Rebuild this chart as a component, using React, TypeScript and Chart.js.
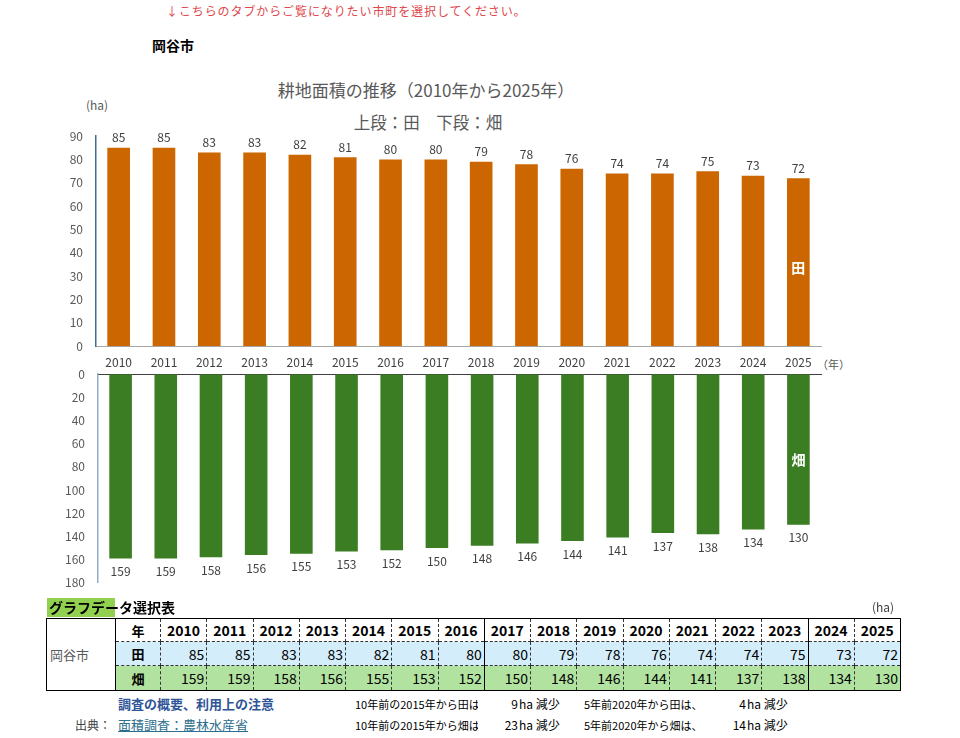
import React, { useEffect, useRef } from 'react';
import { Chart, registerables } from 'chart.js';

Chart.register(...registerables);

// 耕地面積（ha）
const years = ['2010', '2011', '2012', '2013', '2014', '2015', '2016', '2017', '2018', '2019', '2020', '2021', '2022', '2023', '2024', '2025'];
const paddyHa = [85, 85, 83, 83, 82, 81, 80, 80, 79, 78, 76, 74, 74, 75, 73, 72];
const uplandHa = [159, 159, 158, 156, 155, 153, 152, 150, 148, 146, 144, 141, 137, 138, 134, 130];

const paddyAxis = { max: 90, step: 10 };
const uplandAxis = { max: 180, step: 20 };

const FONT = "'Noto Sans CJK JP', 'Noto Sans', sans-serif";
const NARROW = "'Liberation Sans Narrow', 'Noto Sans CJK JP', sans-serif";
const ORANGE = '#CC6600';
const GREEN = '#3A7D22';

// 値ラベルと系列名（最終年の棒の中）を描くプラグイン
const barLabels = {
  id: 'barLabels',
  afterDatasetsDraw(chart: any, _args: any, opts: any) {
    const { ctx } = chart;
    const meta = chart.getDatasetMeta(0);
    const data = chart.data.datasets[0].data as number[];
    ctx.save();
    ctx.font = `12px ${FONT}`;
    ctx.fillStyle = '#404040';
    ctx.textAlign = 'center';
    meta.data.forEach((bar: any, i: number) => {
      const { x, y } = bar.getProps(['x', 'y'], true);
      if (opts.below) {
        ctx.textBaseline = 'top';
        ctx.fillText(String(data[i]), x, y + 7);
      } else {
        ctx.textBaseline = 'bottom';
        ctx.fillText(String(data[i]), x, y - 4);
      }
    });
    const last = meta.data[meta.data.length - 1];
    const p = last.getProps(['x', 'y', 'base'], true);
    ctx.font = `bold 14px ${FONT}`;
    ctx.fillStyle = '#ffffff';
    ctx.textBaseline = 'middle';
    ctx.fillText(opts.name, p.x, (p.y + p.base) / 2 + opts.nameOffset);
    ctx.restore();
  },
};

function makeChart(canvas: HTMLCanvasElement, cfg: {
  values: number[]; color: string; axis: { max: number; step: number }; below: boolean;
  name: string; nameOffset: number; padBottom: number; axisWidth: number; yBorder: string;
}) {
  return new Chart(canvas, {
    type: 'bar',
    data: {
      labels: years,
      datasets: [{
        data: cfg.values,
        backgroundColor: cfg.color,
        barPercentage: 0.5,
        categoryPercentage: 1,
      }],
    },
    options: {
      responsive: false,
      animation: false,
      layout: { padding: { left: 0, right: 139, top: 0, bottom: cfg.padBottom } },
      plugins: {
        legend: { display: false },
        tooltip: { enabled: false },
        barLabels: { below: cfg.below, name: cfg.name, nameOffset: cfg.nameOffset },
      } as any,
      scales: {
        x: cfg.below
          ? {
              position: 'top',
              grid: { display: false, drawTicks: false },
              border: { display: true, color: '#404040', width: 1 },
              ticks: { display: false },
              afterFit: (s: any) => { s.height = 0; },
            }
          : {
              grid: { display: false, drawTicks: false },
              border: { display: true, color: '#a6a6a6', width: 1 },
              ticks: { font: { family: FONT, size: 12 }, color: '#404040', padding: 9, autoSkip: false, maxRotation: 0 },
              afterFit: (s: any) => { s.height = 29; },
            },
        y: {
          min: 0,
          max: cfg.axis.max,
          reverse: cfg.below,
          grid: { display: false, drawTicks: false },
          border: { display: true, color: cfg.yBorder, width: 1.5 },
          ticks: { stepSize: cfg.axis.step, font: { family: FONT, size: 12 }, color: '#595959', padding: 13 },
          afterFit: (s: any) => { s.width = cfg.axisWidth; },
        },
      },
    } as any,
    plugins: [barLabels],
  });
}

function Txt(props: { x: number; cy: number; size: number; children: React.ReactNode; style?: React.CSSProperties; center?: boolean }) {
  const { x, cy, size, children, style, center } = props;
  return (
    <div
      style={{
        position: 'absolute',
        left: x,
        top: cy - size * 0.75,
        fontSize: size,
        lineHeight: `${size * 1.5}px`,
        whiteSpace: 'nowrap',
        transform: center ? 'translateX(-50%)' : undefined,
        ...style,
      }}
    >
      {children}
    </div>
  );
}

export default function App() {
  const topRef = useRef<HTMLCanvasElement>(null);
  const bottomRef = useRef<HTMLCanvasElement>(null);

  useEffect(() => {
    const top = makeChart(topRef.current!, {
      values: paddyHa, color: ORANGE, axis: paddyAxis, below: false, name: '田', nameOffset: 6,
      padBottom: 0, axisWidth: 96, yBorder: '#3f6f8f',
    });
    const bottom = makeChart(bottomRef.current!, {
      values: uplandHa, color: GREEN, axis: uplandAxis, below: true, name: '畑', nameOffset: 10,
      padBottom: 0, axisWidth: 98, yBorder: '#8faec6',
    });
    return () => { top.destroy(); bottom.destroy(); };
  }, []);

  const last = years.length - 1;
  const i2015 = years.indexOf('2015');
  const i2020 = years.indexOf('2020');
  const paddy10 = paddyHa[i2015] - paddyHa[last];
  const upland10 = uplandHa[i2015] - uplandHa[last];
  const paddy5 = paddyHa[i2020] - paddyHa[last];
  const upland5 = uplandHa[i2020] - uplandHa[last];

  const solidAfter = new Set([6, 13]);
  const dash = '1px dashed #333';
  const cell = (i: number, extra: React.CSSProperties): React.CSSProperties => ({
    borderTop: dash,
    borderBottom: dash,
    borderLeft: dash,
    borderRight: solidAfter.has(i) ? '1px solid #000' : dash,
    padding: '0 2px',
    ...extra,
  });
  const rowColors = ['#ffffff', '#D4EDFA', '#B2E2A0'];

  return (
    <div style={{ position: 'absolute', left: 0, top: 0, width: 960, height: 738, overflow: 'hidden', background: '#fff', fontFamily: FONT, color: '#000' }}>
      <Txt x={166} cy={11} size={12} style={{ color: '#E0474C', letterSpacing: '0.9px' }}>↓こちらのタブからご覧になりたい市町を選択してください。</Txt>
      <Txt x={152} cy={45} size={14} style={{ fontWeight: 700 }}>岡谷市</Txt>

      <Txt x={426} cy={90} size={17} center style={{ color: '#595959' }}>耕地面積の推移（2010年から2025年）</Txt>
      <Txt x={428} cy={122} size={16.5} center style={{ color: '#595959' }}>上段：田　下段：畑</Txt>
      <Txt x={86} cy={105} size={12} style={{ color: '#595959' }}>(ha)</Txt>
      <Txt x={817} cy={364} size={11} style={{ color: '#595959' }}>（年）</Txt>

      <canvas ref={topRef} width={960} height={259} style={{ position: 'absolute', left: 0, top: 116, width: 960, height: 259 }} />
      <canvas ref={bottomRef} width={960} height={249} style={{ position: 'absolute', left: 0, top: 354, width: 960, height: 249 }} />

      <div style={{ position: 'absolute', left: 47, top: 598, width: 68, height: 19, background: '#92D050' }} />
      <Txt x={49} cy={607} size={14} style={{ fontWeight: 700 }}>グラフデータ選択表</Txt>
      <Txt x={872} cy={607} size={12} style={{ color: '#404040' }}>(ha)</Txt>

      <table
        style={{
          position: 'absolute', left: 46, top: 618, width: 854, borderCollapse: 'collapse',
          tableLayout: 'fixed', border: '1px solid #000', fontFamily: NARROW, fontSize: 14,
        }}
      >
        <colgroup>
          <col style={{ width: 69 }} />
          <col style={{ width: 45 }} />
          {years.map((y) => <col key={y} style={{ width: 46.25 }} />)}
        </colgroup>
        <tbody>
          <tr style={{ height: 23, background: rowColors[0] }}>
            <td rowSpan={3} style={{ border: '1px solid #000', background: '#fff', color: '#595959', fontFamily: FONT, fontSize: 13, paddingLeft: 3, verticalAlign: 'middle' }}>岡谷市</td>
            <td style={cell(-1, { textAlign: 'center', fontWeight: 700, fontFamily: FONT, fontSize: 13, borderLeft: '1px solid #000' })}>年</td>
            {years.map((y, i) => (
              <td key={y} style={cell(i, { textAlign: 'center', fontWeight: 700 })}>{y}</td>
            ))}
          </tr>
          <tr style={{ height: 24, background: rowColors[1] }}>
            <td style={cell(-1, { textAlign: 'center', fontWeight: 700, fontFamily: FONT, fontSize: 13, borderLeft: '1px solid #000' })}>田</td>
            {paddyHa.map((v, i) => (
              <td key={i} style={cell(i, { textAlign: 'right' })}>{v}</td>
            ))}
          </tr>
          <tr style={{ height: 25, background: rowColors[2] }}>
            <td style={cell(-1, { textAlign: 'center', fontWeight: 700, fontFamily: FONT, fontSize: 13, borderLeft: '1px solid #000' })}>畑</td>
            {uplandHa.map((v, i) => (
              <td key={i} style={cell(i, { textAlign: 'right' })}>{v}</td>
            ))}
          </tr>
        </tbody>
      </table>

      <Txt x={118} cy={704} size={13} style={{ fontWeight: 700, color: '#2F5597' }}>調査の概要、利用上の注意</Txt>
      <Txt x={75} cy={725} size={12} style={{ color: '#404040' }}>出典：</Txt>
      <Txt x={118} cy={725} size={13} style={{ color: '#2E6E8E', textDecoration: 'underline' }}>面積調査：農林水産省</Txt>

      <Txt x={355} cy={704} size={11}>10年前の2015年から田は、</Txt>
      <Txt x={355} cy={725} size={11}>10年前の2015年から畑は、</Txt>
      <Txt x={478} cy={704} size={12} style={{ width: 40, textAlign: 'right', background: '#fff' }}>{paddy10}</Txt>
      <Txt x={478} cy={725} size={12} style={{ width: 40, textAlign: 'right', background: '#fff' }}>{upland10}</Txt>
      <Txt x={519} cy={704} size={12}>ha 減少</Txt>
      <Txt x={519} cy={725} size={12}>ha 減少</Txt>

      <Txt x={584} cy={704} size={11}>5年前2020年から田は、</Txt>
      <Txt x={584} cy={725} size={11}>5年前2020年から畑は、</Txt>
      <Txt x={706} cy={704} size={12} style={{ width: 40, textAlign: 'right' }}>{paddy5}</Txt>
      <Txt x={706} cy={725} size={12} style={{ width: 40, textAlign: 'right' }}>{upland5}</Txt>
      <Txt x={747} cy={704} size={12}>ha 減少</Txt>
      <Txt x={747} cy={725} size={12}>ha 減少</Txt>
    </div>
  );
}
